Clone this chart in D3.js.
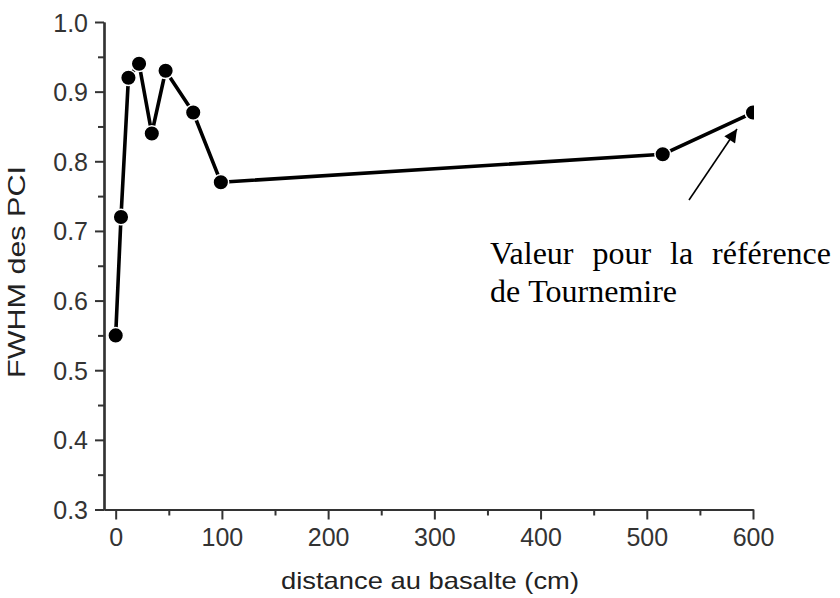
<!DOCTYPE html>
<html>
<head>
<meta charset="utf-8">
<script src="https://cdn.jsdelivr.net/npm/d3@7"></script>
<style>
  html, body { margin: 0; padding: 0; background: #fff; }
  svg { display: block; }
</style>
</head>
<body>
<script>
// FWHM of the PCI as a function of the distance to the basalt
const distances = [0, 5, 12, 22, 34, 47, 73, 99, 515, 600];
const fwhm = [0.55, 0.72, 0.92, 0.94, 0.84, 0.93, 0.87, 0.77, 0.81, 0.87];
const xTicks = [0, 100, 200, 300, 400, 500, 600];
const xMinorTicks = [50, 150, 250, 350, 450, 550];
const yTicks = [0.3, 0.4, 0.5, 0.6, 0.7, 0.8, 0.9, 1.0];
const yMinorTicks = [0.35, 0.45, 0.55, 0.65, 0.75, 0.85, 0.95];
const annotationLines = [
  ["Valeur", "pour", "la", "référence"],
  ["de", "Tournemire"]
];
const xTitle = "distance au basalte (cm)";
const yTitle = "FWHM des PCI";

const W = 840, H = 598;
const plotLeft = 104, plotRight = 753, plotTop = 22, plotBottom = 509.5;

const svg = d3.select("body").append("svg")
  .attr("width", W).attr("height", H);

const x = d3.scaleLinear().domain([-11, 600]).range([plotLeft, plotRight]);
const y = d3.scaleLinear().domain([0.3, 1.0]).range([plotBottom, plotTop]);

const axisColor = "#333";
const labelFont = "'Liberation Sans', Arial, sans-serif";

// Axes: major ticks with labels, minor ticks without
const xAxis = svg.append("g").attr("transform", `translate(0,${plotBottom})`)
  .call(d3.axisBottom(x).tickValues(xTicks).tickSize(10).tickSizeOuter(0).tickFormat(d3.format("d")));
const xMinor = svg.append("g").attr("transform", `translate(0,${plotBottom})`)
  .call(d3.axisBottom(x).tickValues(xMinorTicks).tickSize(6).tickSizeOuter(0).tickFormat(""));
const yAxis = svg.append("g").attr("transform", `translate(${plotLeft},0)`)
  .call(d3.axisLeft(y).tickValues(yTicks).tickSize(9).tickSizeOuter(0).tickFormat(d3.format(".1f")));
const yMinor = svg.append("g").attr("transform", `translate(${plotLeft},0)`)
  .call(d3.axisLeft(y).tickValues(yMinorTicks).tickSize(6).tickSizeOuter(0).tickFormat(""));

[xAxis, xMinor, yAxis, yMinor].forEach(g => {
  g.select(".domain").attr("stroke", axisColor).attr("stroke-width", 2.2);
  g.selectAll(".tick line").attr("stroke", axisColor).attr("stroke-width", 2);
  g.selectAll(".tick text")
    .attr("fill", "#333")
    .style("font-family", labelFont)
    .style("font-size", "25px");
});
xAxis.selectAll(".tick text").attr("y", 19);
yAxis.selectAll(".tick text").attr("x", -16).attr("dy", "0.36em");

// Axis titles
svg.append("text")
  .attr("x", 430).attr("y", 589)
  .attr("text-anchor", "middle")
  .attr("textLength", 298).attr("lengthAdjust", "spacingAndGlyphs")
  .style("font-family", labelFont).style("font-size", "24px")
  .attr("fill", "#222")
  .text(xTitle);

svg.append("text")
  .attr("transform", "translate(25,272) rotate(-90)")
  .attr("text-anchor", "middle")
  .attr("textLength", 212).attr("lengthAdjust", "spacingAndGlyphs")
  .style("font-family", labelFont).style("font-size", "24px")
  .attr("fill", "#222")
  .text(yTitle);

// Series, clipped to the plotting frame
svg.append("clipPath").attr("id", "plotClip")
  .append("rect").attr("x", plotLeft).attr("y", 0)
  .attr("width", plotRight - plotLeft + 1).attr("height", plotBottom);

const pts = distances.map((d, i) => [d, fwhm[i]]);
const plot = svg.append("g").attr("clip-path", "url(#plotClip)");

plot.append("path")
  .datum(pts)
  .attr("fill", "none")
  .attr("stroke", "#000")
  .attr("stroke-width", 3.6)
  .attr("stroke-linejoin", "round")
  .attr("d", d3.line().x(d => x(d[0])).y(d => y(d[1])));

plot.selectAll("circle").data(pts).join("circle")
  .attr("cx", d => x(d[0])).attr("cy", d => y(d[1]))
  .attr("r", 7.8)
  .attr("fill", "#000")
  .attr("stroke", "#fff").attr("stroke-width", 1.5);

// Annotation arrow
svg.append("defs").append("marker")
  .attr("id", "arrowHead")
  .attr("viewBox", "0 0 10 10")
  .attr("refX", 10).attr("refY", 5)
  .attr("markerWidth", 17).attr("markerHeight", 13)
  .attr("markerUnits", "userSpaceOnUse")
  .attr("orient", "auto")
  .append("path").attr("d", "M0,0 L10,5 L0,10 Z").attr("fill", "#000");

svg.append("line")
  .attr("x1", 689).attr("y1", 200)
  .attr("x2", 737).attr("y2", 129)
  .attr("stroke", "#000").attr("stroke-width", 1.6)
  .attr("marker-end", "url(#arrowHead)");

// Justified annotation text
const serif = "'Liberation Serif', 'Times New Roman', serif";
const textLeft = 490, textRight = 831;
annotationLines.forEach((words, li) => {
  const baseline = 264 + li * 38;
  const g = svg.append("g");
  const nodes = words.map(w => g.append("text")
    .attr("y", baseline)
    .style("font-family", serif).style("font-size", "32px")
    .attr("fill", "#000")
    .text(w));
  const widths = nodes.map(n => n.node().getComputedTextLength());
  const isLast = li === annotationLines.length - 1;
  const space = 32 * 0.25;
  const gap = isLast ? space
    : (textRight - textLeft - d3.sum(widths)) / (words.length - 1);
  let cx = textLeft;
  nodes.forEach((n, i) => { n.attr("x", cx); cx += widths[i] + gap; });
});
</script>
</body>
</html>
